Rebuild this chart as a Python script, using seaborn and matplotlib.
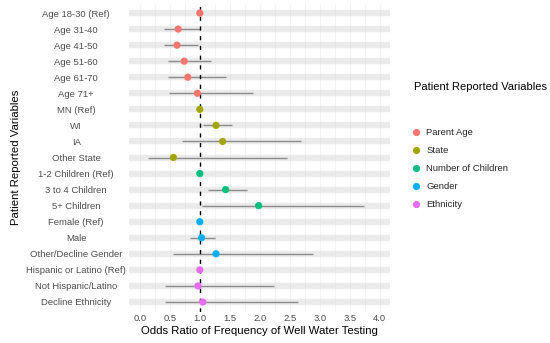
import matplotlib
matplotlib.use("Agg")
import matplotlib.pyplot as plt
import seaborn as sns
import pandas as pd
import numpy as np

variables = ["Age 18-30 (Ref)", "Age 31-40", "Age 41-50", "Age 51-60", "Age 61-70", "Age 71+",
             "MN (Ref)", "WI", "IA", "Other State",
             "1-2 Children (Ref)", "3 to 4 Children", "5+ Children",
             "Female (Ref)", "Male", "Other/Decline Gender",
             "Hispanic or Latino (Ref)", "Not Hispanic/Latino", "Decline Ethnicity"]
groups = ["Parent Age"] * 6 + ["State"] * 4 + ["Number of Children"] * 3 + ["Gender"] * 3 + ["Ethnicity"] * 3
odds = [1.0, 0.64, 0.62, 0.74, 0.80, 0.96,
        1.0, 1.27, 1.38, 0.56,
        1.0, 1.43, 1.98,
        1.0, 1.03, 1.27,
        1.0, 0.97, 1.05]
ci_low = [np.nan, 0.41, 0.41, 0.47, 0.47, 0.49,
          np.nan, 1.05, 0.71, 0.14,
          np.nan, 1.14, 1.04,
          np.nan, 0.83, 0.56,
          np.nan, 0.42, 0.42]
ci_high = [np.nan, 1.00, 0.97, 1.19, 1.43, 1.88,
           np.nan, 1.54, 2.68, 2.45,
           np.nan, 1.79, 3.74,
           np.nan, 1.25, 2.88,
           np.nan, 2.24, 2.64]
group_order = ["Parent Age", "State", "Number of Children", "Gender", "Ethnicity"]
palette = ["#F8766D", "#A3A500", "#00BF7D", "#00B0F6", "#E76BF3"]
x_ticks = [0.0, 0.5, 1.0, 1.5, 2.0, 2.5, 3.0, 3.5, 4.0]

df = pd.DataFrame({"var": variables, "group": groups, "or": odds,
                   "lo": ci_low, "hi": ci_high})
df["pos"] = np.arange(len(df))

sns.set_theme(style="white")
plt.rcParams["font.family"] = ["Liberation Sans", "DejaVu Sans"]

W, H = 550, 343
fig = plt.figure(figsize=(W / 100, H / 100), dpi=100)
ax = fig.add_axes([129 / W, (H - 311.6) / H, 261 / W, 308.2 / H])

# grid
for p in df["pos"]:
    ax.axhline(p, color="#EBEBEB", lw=4.6, zorder=0, solid_capstyle="butt")
for xv in np.arange(-0.25, 4.3, 0.25):
    ax.axvline(xv, color="#D8D8D8", lw=0.4, zorder=0.5, alpha=0.5)

ax.hlines(df["pos"], df["lo"], df["hi"], color="#8C8C8C", lw=1.0, zorder=2)
ax.axvline(1.0, color="black", lw=1.0, ls=(0, (3, 4)), zorder=3)

sns.scatterplot(data=df, x="or", y="pos", hue="group", hue_order=group_order,
                palette=palette, s=27, edgecolor="none", ax=ax, zorder=4, legend=True)

ax.set_ylim(len(df) - 0.4, -0.6)
ax.set_xlim(-0.18, 4.17)
ax.set_yticks(df["pos"])
ax.set_yticklabels(df["var"], fontsize=6.8, color="#4D4D4D")
for lab in ax.get_yticklabels():
    lab.set_horizontalalignment("center")
ax.set_xticks(x_ticks)
ax.set_xticklabels([f"{v:.1f}" for v in x_ticks], fontsize=6.8, color="#4D4D4D")
ax.tick_params(axis="y", length=0, pad=38)
ax.tick_params(axis="x", length=0, pad=2)
for s in ax.spines.values():
    s.set_visible(False)
ax.set_xlabel("Odds Ratio of Frequency of Well Water Testing", fontsize=8.2, color="black", labelpad=2)
ax.set_ylabel("Patient Reported Variables", fontsize=8.2, color="black", labelpad=4)

handles, labels = ax.get_legend_handles_labels()
ax.legend_.remove()
fig.text(414 / W, 1 - 87 / H, "Patient Reported Variables", fontsize=8.0,
         color="black", ha="left", va="center")
leg = fig.legend(handles, labels, loc="upper left",
                 bbox_to_anchor=(411 / W, 1 - 128 / H), bbox_transform=fig.transFigure,
                 frameon=False, fontsize=6.8, borderpad=0, borderaxespad=0,
                 handlelength=1.0, handletextpad=0.6, labelspacing=0.95,
                 markerscale=1.0)

fig.savefig("out.png", dpi=100)
